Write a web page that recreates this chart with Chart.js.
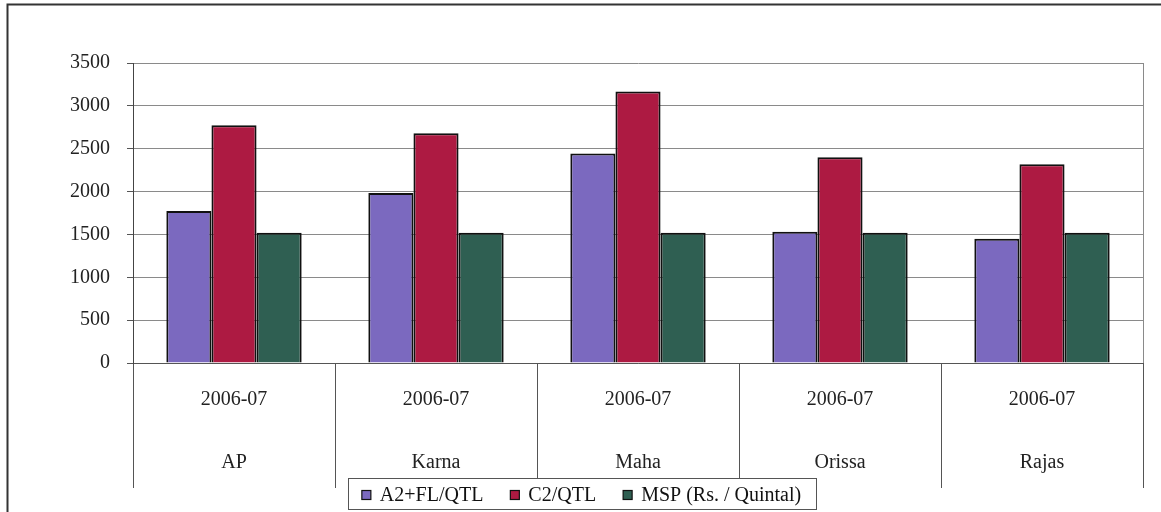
<!DOCTYPE html>
<html>
<head>
<meta charset="utf-8">
<script src="https://cdn.jsdelivr.net/npm/chart.js@4"></script>
<style>
  html, body { margin: 0; padding: 0; background: #fff; }
  #wrap { width: 1161px; height: 512px; }
</style>
</head>
<body>
<div id="wrap"><canvas id="costChart" width="1161" height="512"></canvas></div>
<script>
const states = ['AP', 'Karna', 'Maha', 'Orissa', 'Rajas'];
const years = ['2006-07', '2006-07', '2006-07', '2006-07', '2006-07'];
const a2fl = [1772, 1982, 2443, 1531, 1449];
const c2 = [2773, 2680, 3167, 2400, 2318];
const msp = [1520, 1520, 1520, 1520, 1520];
const seriesNames = ['A2+FL/QTL', 'C2/QTL', 'MSP (Rs. / Quintal)'];
const yTicks = [0, 500, 1000, 1500, 2000, 2500, 3000, 3500];

const serif = "'Liberation Serif', 'Times New Roman', serif";

// frame, right edge of plot and the boxed legend
const decor = {
  id: 'decor',
  beforeDraw(chart) {
    const c = chart.ctx;
    c.save();
    c.strokeStyle = '#333';
    c.lineWidth = 2;
    c.beginPath();
    c.moveTo(7.5, 512);
    c.lineTo(7.5, 4.5);
    c.lineTo(1161, 4.5);
    c.stroke();
    c.restore();
  },
  afterDraw(chart) {
    const c = chart.ctx;
    const a = chart.chartArea;
    c.save();
    c.strokeStyle = '#8a8a8a';
    c.lineWidth = 1;
    c.beginPath();
    c.moveTo(a.right + 0.5, a.top);
    c.lineTo(a.right + 0.5, a.bottom);
    c.stroke();

    // legend
    c.font = '20px ' + serif;
    const box = 9, gap = 10, space = 26;
    const ds = chart.data.datasets;
    let total = 0;
    ds.forEach((d, i) => {
      total += box + gap + c.measureText(d.label).width + (i < ds.length - 1 ? space : 0);
    });
    const cx = 582;
    const lx = 348, rx = 816, ty = 478, by = 509;
    c.fillStyle = '#fff';
    c.fillRect(lx, ty, rx - lx, by - ty);
    c.strokeStyle = '#555';
    c.lineWidth = 1;
    c.strokeRect(lx + 0.5, ty + 0.5, rx - lx, by - ty);
    let x = cx - total / 2;
    const my = 495;
    c.textBaseline = 'middle';
    c.textAlign = 'left';
    ds.forEach(d => {
      c.fillStyle = d.backgroundColor;
      c.fillRect(x, my - 4.5, box, box);
      c.strokeStyle = '#111';
      c.lineWidth = 1.2;
      c.strokeRect(x, my - 4.5, box, box);
      c.fillStyle = '#111';
      c.fillText(d.label, x + box + gap - 1, my + 1);
      x += box + gap + c.measureText(d.label).width + space;
    });
    c.restore();
  }
};

const ctx = document.getElementById('costChart').getContext('2d');
new Chart(ctx, {
  type: 'bar',
  data: {
    labels: states.map((s, i) => [years[i], s]),
    datasets: [
      { label: seriesNames[0], data: a2fl, backgroundColor: '#7b69bf' },
      { label: seriesNames[1], data: c2, backgroundColor: '#ad1a42' },
      { label: seriesNames[2], data: msp, backgroundColor: '#2f5f52' }
    ]
  },
  options: {
    responsive: false,
    animation: false,
    layout: { padding: { top: 63, right: 18, bottom: 34, left: 0 } },
    datasets: {
      bar: {
        categoryPercentage: 0.67,
        barPercentage: 1,
        borderColor: '#111',
        borderWidth: 2
      }
    },
    plugins: {
      legend: { display: false },
      tooltip: { enabled: false }
    },
    scales: {
      x: {
        offset: true,
        afterFit(scale) { scale.height = 115; },
        grid: {
          display: true,
          offset: true,
          drawOnChartArea: false,
          drawTicks: true,
          tickLength: 125,
          color: '#555',
          lineWidth: 1
        },
        border: { display: true, color: '#555', width: 1 },
        ticks: {
          color: '#222',
          padding: -120,
          maxRotation: 0,
          autoSkip: false,
          font: { family: serif, size: 20, lineHeight: 3.15 }
        }
      },
      y: {
        min: 0,
        max: 3500,
        afterFit(scale) { scale.width = 133; },
        afterBuildTicks(scale) { scale.ticks = yTicks.map(v => ({ value: v })); },
        grid: {
          color: '#8a8a8a',
          lineWidth: 1,
          tickLength: 6,
          tickColor: '#555'
        },
        border: { display: true, color: '#444', width: 1 },
        ticks: {
          color: '#222',
          padding: 17,
          font: { family: serif, size: 20 },
          callback: v => String(v)
        }
      }
    }
  },
  plugins: [decor]
});
</script>
</body>
</html>
